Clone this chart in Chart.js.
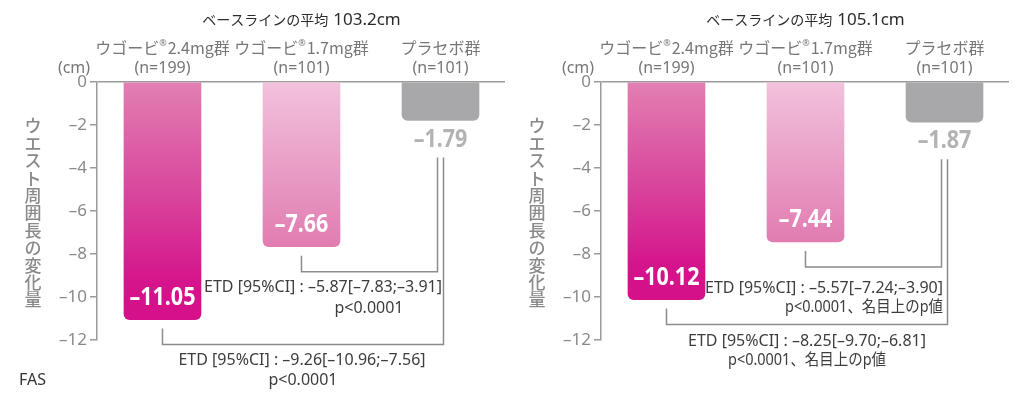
<!DOCTYPE html>
<html>
<head>
<meta charset="utf-8">
<script src="https://cdn.jsdelivr.net/npm/chart.js@4.4.1/dist/chart.umd.min.js"></script>
<style>
  html, body { margin: 0; background: #fff; }
  #wrap { position: relative; width: 1024px; height: 399px; overflow: hidden; }
  canvas { position: absolute; top: 0; }
  #cA { left: 0; }
  #cB { left: 504px; }
</style>
</head>
<body>
<div id="wrap">
  <canvas id="cA" width="512" height="399"></canvas>
  <canvas id="cB" width="512" height="399"></canvas>
</div>
<script>
// ── DATA ─────────────────────────────────────────────────────────────────────
const categories = ['ウゴービ®2.4mg群', 'ウゴービ®1.7mg群', 'プラセボ群']
const groupSizesA = ['(n=199)', '(n=101)', '(n=101)']
const groupSizesB = ['(n=199)', '(n=101)', '(n=101)']
const waistChangeA = [-11.05, -7.66, -1.79]
const waistChangeB = [-10.12, -7.44, -1.87]
const baselineA = '103.2cm'
const baselineB = '105.1cm'
const yTicks = [0, -2, -4, -6, -8, -10, -12]
const etdA = ['ETD [95%CI] : –5.87[–7.83;–3.91]', 'ETD [95%CI] : –9.26[–10.96;–7.56]']
const etdB = ['ETD [95%CI] : –5.57[–7.24;–3.90]', 'ETD [95%CI] : –8.25[–9.70;–6.81]']
const pValA = ['p<0.0001', 'p<0.0001']
const pValB = ['p<0.0001、名目上のp値', 'p<0.0001、名目上のp値']
const yTitle = 'ウエスト周囲長の変化量'

// ── STYLE ────────────────────────────────────────────────────────────────────
const GRAY_AX  = '#9b9b9b'
const GRAY_TXT = '#8a8a8a'
const LATIN    = '"Noto Sans", "Noto Sans CJK JP"'
const CJK      = '"Noto Sans CJK JP"'
const BAR_STOPS = [
  [[0, '#e27fb2'], [0.5, '#d8429b'], [0.85, '#d5138b'], [1, '#d5108a']],
  [[0, '#f2c2dc'], [1, '#e17cb1']],
  [[0, '#a8a8aa'], [1, '#a8a8aa']]
]

// gradient vertical do zero até o fim da barra
function barFill(c) {
  const chart = c.chart
  if (!chart.chartArea || !chart.scales.y) return BAR_STOPS[c.dataIndex][0][1]
  const ys = chart.scales.y
  const y0 = ys.getPixelForValue(0)
  const y1 = ys.getPixelForValue(c.raw.y)
  const g = chart.ctx.createLinearGradient(0, y0, 0, y1)
  BAR_STOPS[c.dataIndex].forEach(([o, col]) => g.addColorStop(o, col))
  return g
}

function drawCat(ctx, label, cx, y) {
  const parts = label.split('®')
  const big = '16px ' + CJK, small = '9px ' + LATIN
  ctx.font = big
  const w0 = ctx.measureText(parts[0]).width
  const w2 = parts.length > 1 ? ctx.measureText(parts[1]).width : 0
  ctx.font = small
  const wr = parts.length > 1 ? ctx.measureText('®').width + 1 : 0
  let x = cx - (w0 + wr + w2) / 2
  ctx.textAlign = 'left'
  ctx.font = big
  ctx.fillText(parts[0], x, y); x += w0
  if (parts.length > 1) {
    ctx.font = small; ctx.fillText('®', x, y - 5); x += wr
    ctx.font = big;   ctx.fillText(parts[1], x, y)
  }
}

function txt(ctx, s, x, y, align, font, color, maxW) {
  ctx.font = font; ctx.fillStyle = color; ctx.textAlign = align
  if (maxW) ctx.fillText(s, x, y, maxW)
  else ctx.fillText(s, x, y)
}

// Plugin: cabeçalho, título vertical, rótulos de valor, colchetes e ETD
function panelPlugin(p) {
  return {
    id: 'panel' + p.key,
    afterDraw(chart) {
      const ctx  = chart.ctx
      const bars = chart.getDatasetMeta(0).data
      ctx.save()
      ctx.textBaseline = 'middle'

      // cabeçalho
      ctx.font = '14px ' + CJK
      const w1 = ctx.measureText('ベースラインの平均').width
      ctx.font = '17px ' + LATIN
      const w2 = ctx.measureText(p.baseline).width
      const hx = bars[1].x - (w1 + 5 + w2) / 2
      txt(ctx, 'ベースラインの平均', hx, 20, 'left', '14px ' + CJK, '#2b2b2b')
      txt(ctx, p.baseline, hx + w1 + 5, 20, 'left', '17px ' + LATIN, '#2b2b2b')

      // categorias + n
      ctx.fillStyle = '#777'
      categories.forEach((c, i) => drawCat(ctx, c, bars[i].x, 48))
      p.sizes.forEach((s, i) => txt(ctx, s, bars[i].x, 68, 'center', '16px ' + LATIN, '#777'))
      txt(ctx, '(cm)', 74, 68, 'center', '16px ' + LATIN, '#777')

      // título do eixo y (vertical, caracteres em pé)
      ;[...yTitle].forEach((ch, i) => txt(ctx, ch, 33, 126 + i * 17.4, 'center', '500 17px ' + CJK, GRAY_TXT))

      // valores das barras
      bars.forEach((el, i) => {
        const v = '–' + Math.abs(p.values[i]).toFixed(2)
        const inside = i < 2
        const y = inside ? el.y - 22 : el.y + 19
        ctx.save()
        ctx.translate(el.x, y)
        ctx.scale(0.86, 1)
        txt(ctx, v, 0, 0, 'center', 'bold 25px ' + LATIN, inside ? '#fff' : '#b3b3b3')
        ctx.restore()
      })

      // colchetes de comparação
      ctx.strokeStyle = '#8c8c8c'
      ctx.lineWidth = 1.5
      const bracket = (from, dx) => {
        const a = bars[from], b = bars[2]
        const yH = a.y + 25
        ctx.beginPath()
        ctx.moveTo(a.x, a.y + 9)
        ctx.lineTo(a.x, yH)
        ctx.lineTo(b.x + dx, yH)
        ctx.lineTo(b.x + dx, b.y + 37)
        ctx.stroke()
      }
      bracket(1, -3)
      bracket(0, 3)

      // textos ETD / p
      const f = '16px ' + LATIN, col = '#3d3d3d'
      p.notes.forEach(n => txt(ctx, n.t, n.x, n.y, n.align, f, col, n.w))

      if (p.fas) txt(ctx, 'FAS', 19, 380, 'left', '16px ' + LATIN, '#333')
      ctx.restore()
    }
  }
}

function makePanel(canvasId, p) {
  return new Chart(document.getElementById(canvasId), {
    type: 'bar',
    data: {
      datasets: [{
        data: p.values.map((v, i) => ({ x: i, y: v })),
        backgroundColor: barFill,
        barThickness: 77,
        borderRadius: 6,
        borderSkipped: 'start'
      }]
    },
    options: {
      responsive: false,
      animation: false,
      layout: { padding: { top: 82, bottom: 59, left: 0, right: 7 } },
      plugins: { legend: { display: false }, tooltip: { enabled: false } },
      scales: {
        x: { type: 'linear', offset: false, min: -0.471, max: 2.464, display: false },
        y: {
          min: yTicks[yTicks.length - 1], max: yTicks[0],
          afterFit: s => { s.width = 97 },
          afterBuildTicks: s => { s.ticks = yTicks.map(v => ({ value: v })) },
          ticks: {
            color: GRAY_TXT, padding: 3,
            font: { family: 'Noto Sans', size: 17 },
            callback: v => v === 0 ? '0' : '–' + Math.abs(v)
          },
          grid: {
            color: c => (c.tick && c.tick.value === 0) ? GRAY_AX : 'rgba(0,0,0,0)',
            tickColor: GRAY_AX, lineWidth: 1.5, tickLength: 7
          },
          border: { display: true, color: GRAY_AX, width: 1.5 }
        }
      }
    },
    plugins: [panelPlugin(p)]
  })
}

makePanel('cA', {
  key: 'A', values: waistChangeA, sizes: groupSizesA, baseline: baselineA, fas: true,
  notes: [
    { t: etdA[0],  x: 442, y: 287, align: 'right' },
    { t: pValA[0], x: 369, y: 308, align: 'center' },
    { t: etdA[1],  x: 302, y: 360, align: 'center' },
    { t: pValA[1], x: 303, y: 380, align: 'center' }
  ]
})

makePanel('cB', {
  key: 'B', values: waistChangeB, sizes: groupSizesB, baseline: baselineB, fas: false,
  notes: [
    { t: etdB[0],  x: 439, y: 288, align: 'right' },
    { t: pValB[0], x: 439, y: 307, align: 'right', w: 158 },
    { t: etdB[1],  x: 303, y: 341, align: 'center' },
    { t: pValB[1], x: 303, y: 360, align: 'center', w: 158 }
  ]
})
</script>
</body>
</html>
